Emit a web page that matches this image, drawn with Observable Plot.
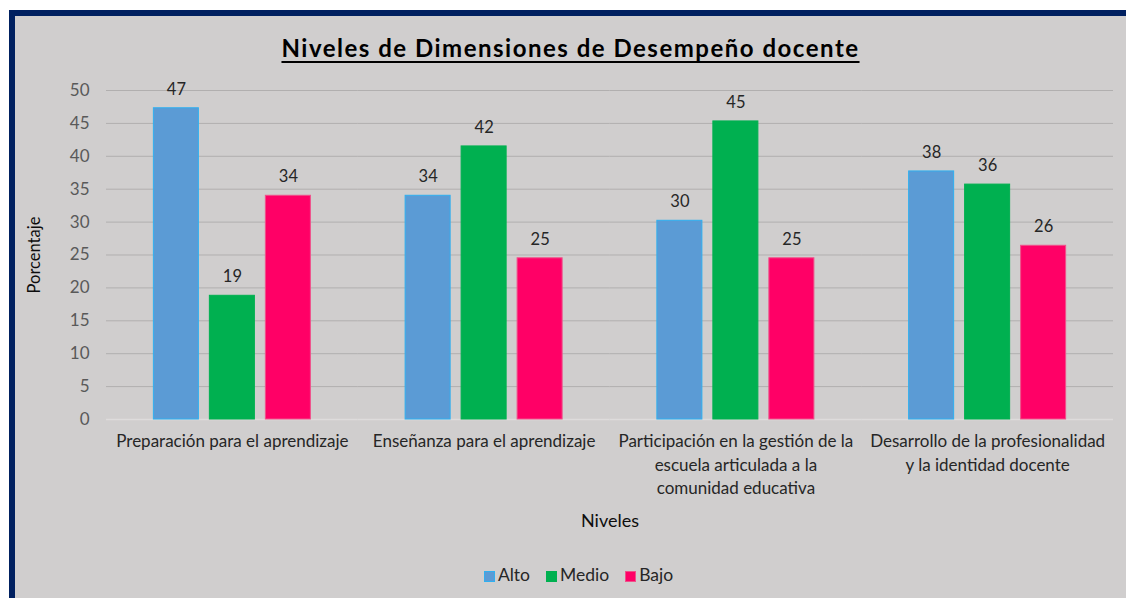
<!DOCTYPE html>
<html>
<head>
<meta charset="utf-8">
<script src="https://cdn.jsdelivr.net/npm/d3@7"></script>
<script src="https://cdn.jsdelivr.net/npm/@observablehq/plot@0.6"></script>
<style>
  html, body { margin: 0; padding: 0; background: #ffffff; }
  body { width: 1126px; height: 598px; position: relative; overflow: hidden; font-family: Lato, "Open Sans", sans-serif; }
  #frame { position: absolute; left: 9px; top: 10px; width: 1111px; height: 582px; background: #d0cece;
           border-left: 6px solid #002060; border-top: 6px solid #002060; }
  #title { position: absolute; left: 0; width: 1111px; top: 17px; text-align: center; font-weight: bold;
           font-size: 24px; letter-spacing: 1.5px; color: #000; text-decoration: underline; text-decoration-thickness: 2px; text-underline-offset: 4px; }
  #chart { position: absolute; left: 0; top: 54px; }
  #legend { position: absolute; left: 8px; width: 1111px; top: 548px; text-align: center; font-size: 17.5px; color: #262626; }
  #legend span.item { display: inline-block; margin: 0 8px; }
  #legend span.sw { display: inline-block; width: 11px; height: 11px; margin-right: 3px; vertical-align: -1px; }
</style>
</head>
<body>
<div id="frame">
  <div id="title">Niveles de Dimensiones de Desempeño docente</div>
  <div id="chart"></div>
  <div id="legend"></div>
</div>
<script>
const categories = [
  "Preparación para el aprendizaje",
  "Enseñanza para el aprendizaje",
  "Participación en la gestión de la escuela articulada a la comunidad educativa",
  "Desarrollo de la profesionalidad y la identidad docente"
];
const tickLabels = [
  "Preparación para el aprendizaje",
  "Enseñanza para el aprendizaje",
  "Participación en la gestión de la\nescuela articulada a la\ncomunidad educativa",
  "Desarrollo de la profesionalidad\ny la identidad docente"
];
const seriesNames = ["Alto", "Medio", "Bajo"];
const alto  = [47.3, 34.0, 30.2, 37.7];
const medio = [18.8, 41.5, 45.3, 35.7];
const bajo  = [34.0, 24.5, 24.5, 26.4];
const colors = ["#5b9bd5", "#00b050", "#ff0066"];
const strokes = ["#2fb0f0", "#00b050", "#f0508a"];
const yTicks = [0, 5, 10, 15, 20, 25, 30, 35, 40, 45, 50];

const seriesValues = [alto, medio, bajo];
const data = [];
categories.forEach((c, i) => {
  seriesNames.forEach((s, j) => {
    data.push({category: c, series: s, value: seriesValues[j][i]});
  });
});
const labelOf = new Map(categories.map((c, i) => [c, tickLabels[i]]));

const chart = Plot.plot({
  width: 1111,
  height: 475,
  marginLeft: 91,
  marginRight: 13,
  marginTop: 20,
  marginBottom: 126,
  style: { background: "transparent", fontFamily: "Lato, 'Open Sans', sans-serif" },
  fx: { domain: categories, padding: 0, round: false, label: null },
  x: { domain: seriesNames, paddingInner: 0.196, paddingOuter: 0.846, round: false, axis: null },
  y: { domain: [0, 50], ticks: yTicks, label: null },
  color: { domain: seriesNames, range: colors },
  marks: [
    Plot.ruleY(yTicks.filter(d => d > 0), { stroke: "#b1afaf", strokeWidth: 1 }),
    Plot.ruleY([0], { stroke: "#dedcdc", strokeWidth: 1.5 }),
    Plot.axisY({ ticks: yTicks, tickSize: 0, tickPadding: 17, fontSize: 17, color: "#595959", label: null }),
    Plot.axisY({ ticks: [], tickSize: 0, fontSize: 16.5, color: "#0d0d0d",
                 label: "Porcentaje", labelAnchor: "center", labelArrow: "none", labelOffset: 78 }),
    Plot.axisFx({ anchor: "bottom", tickSize: 0, tickPadding: 11, fontSize: 17, lineHeight: 1.38, color: "#262626",
                  tickFormat: d => labelOf.get(d), label: null }),
    Plot.axisFx({ anchor: "bottom", ticks: [], tickSize: 0, fontSize: 18, color: "#0d0d0d",
                  label: "Niveles", labelAnchor: "center", labelArrow: "none", labelOffset: 107 }),
    Plot.barY(data, { fx: "category", x: "series", y: "value", fill: "series",
                      stroke: d => strokes[seriesNames.indexOf(d.series)], strokeWidth: 1 }),
    Plot.text(data, { fx: "category", x: "series", y: "value", text: d => d3.format(".0f")(d.value),
                      dy: -19, fontSize: 16.5, fill: "#262626" })
  ]
});
document.getElementById("chart").appendChild(chart);

const legend = document.getElementById("legend");
seriesNames.forEach((s, j) => {
  const item = document.createElement("span");
  item.className = "item";
  const sw = document.createElement("span");
  sw.className = "sw";
  sw.style.background = colors[j];
  sw.style.outline = "1px solid " + strokes[j];
  sw.style.outlineOffset = "-1px";
  item.appendChild(sw);
  item.appendChild(document.createTextNode(s));
  legend.appendChild(item);
});
</script>
</body>
</html>
